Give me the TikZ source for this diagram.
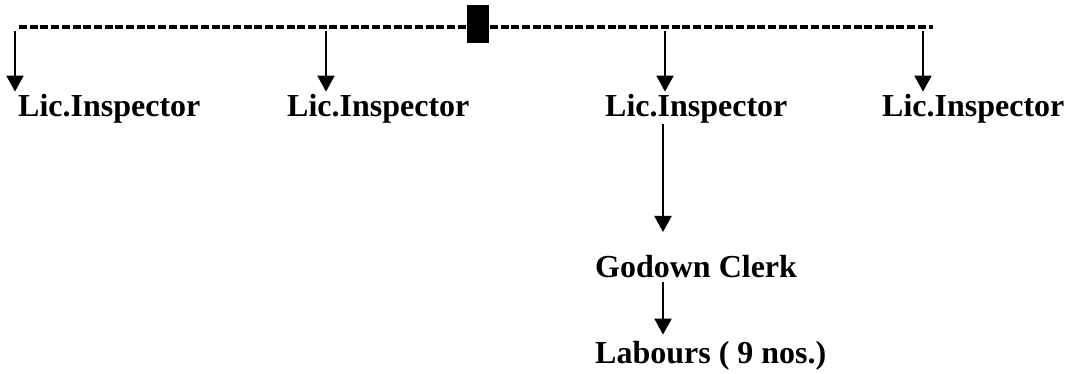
\documentclass[tikz,border=0pt]{standalone}
\usepackage{fontspec}
\setmainfont{Liberation Serif}
\usetikzlibrary{arrows.meta}

\tikzset{
  post/.style={inner sep=0pt,anchor=base west,font=\fontsize{32}{36}\selectfont\bfseries},
  arr/.style={line width=2.2pt,-{Triangle[width=17pt,length=16pt]}}
}

\begin{document}
\begin{tikzpicture}[line cap=butt,line join=miter,x=1pt,y=-1pt]
\useasboundingbox (0,0) rectangle (1069,374);
% dashed bus with the head box
\draw [line width=3.2pt,dash pattern=on 8pt off 2.7pt] (19,27)-- (933,27);
\node [fill=black,inner sep=0pt,minimum width=22pt,minimum height=38pt] (head) at (478,24) {};
% posts
\node [post] (insp1) at (18,117) {Lic.Inspector};
\node [post] (insp2) at (287,117) {Lic.Inspector};
\node [post] (insp3) at (605,117) {Lic.Inspector};
\node [post] (insp4) at (882,117) {Lic.Inspector};
\node [post] (clerk) at (595,278) {Godown Clerk};
\node [post] (labour) at (595,363) {Labours ( 9 nos.)};
% drops from the bus
\coordinate (d1) at (15,31);
\coordinate (d2) at (326,31);
\coordinate (d3) at (665,31);
\coordinate (d4) at (923,31);
\draw [arr,shorten >=3pt] (d1)-- (d1 |- insp1.north);
\draw [arr,shorten >=3pt] (d2)-- (d2 |- insp2.north);
\draw [arr,shorten >=3pt] (d3)-- (d3 |- insp3.north);
\draw [arr,shorten >=3pt] (d4)-- (d4 |- insp4.north);
% chain below the third inspector
\coordinate (v1) at (663,232);
\draw [arr] (insp3.south -| v1)-- (v1);
\draw [arr,shorten >=6pt] ([yshift=-4pt]clerk.base -| v1)-- (labour.north -| v1);
\end{tikzpicture}
\end{document}
